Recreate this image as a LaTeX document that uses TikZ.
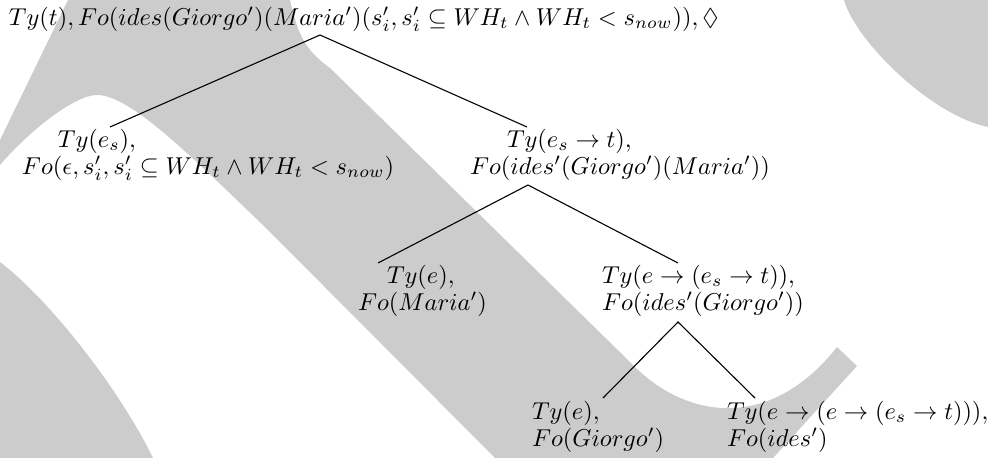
\documentclass[tikz,border=0pt]{standalone}
\usepackage{amssymb}
\definecolor{wm}{HTML}{CCCCCC}
\newlength{\pxu}
\setlength{\pxu}{0.41pt}
\newcommand{\twolines}[3]{\vtop{\baselineskip=27\pxu\hbox{\hspace*{#1\pxu}#2}\hbox{#3}}}
\begin{document}
\begin{tikzpicture}[x=\pxu,y=-\pxu,
  every node/.style={inner sep=0pt,outer sep=0pt},
  lbl/.style={anchor=base west},
  branch/.style={line width=0.45pt,black}]
\useasboundingbox (0,0) rectangle (988,458);
% watermark shapes
\fill[wm] (68,0) -- (290,0) .. controls (298,35) and (305,50) .. (330,68)
  -- (630,362) .. controls (685,420) and (770,432) .. (837,347)
  -- (857,366) -- (773,458) -- (495,458) -- (267,229)
  .. controls (190,155) and (130,95) .. (97,95)
  .. controls (75,95) and (30,130) .. (0,165) -- (0,140) -- cycle;
\fill[wm] (0,262) .. controls (50,300) and (120,390) .. (153,458) -- (0,458) -- cycle;
\fill[wm] (844,0) .. controls (855,40) and (930,115) .. (988,127) -- (988,0) -- cycle;
% tree nodes
\node[lbl] (root) at (9,25) {$Ty(t), Fo(ides(Giorgo')(Maria')(s'_i, s'_i \subseteq WH_t \wedge WH_t < s_{now})), \Diamond$};
\node[lbl] (n1) at (22,147) {\twolines{36}{$Ty(e_s),$}{$Fo(\epsilon, s'_i, s'_i \subseteq WH_t \wedge WH_t < s_{now})$}};
\node[lbl] (n2) at (470,147) {\twolines{37}{$Ty(e_s \rightarrow t),$}{$Fo(ides'(Giorgo')(Maria'))$}};
\node[lbl] (n3) at (358,283) {\twolines{29}{$Ty(e),$}{$Fo(Maria')$}};
\node[lbl] (n4) at (602,283) {\twolines{0}{$Ty(e \rightarrow (e_s \rightarrow t)),$}{$Fo(ides'(Giorgo'))$}};
\node[lbl] (n5) at (532,419) {\twolines{0}{$Ty(e),$}{$Fo(Giorgo')$}};
\node[lbl] (n6) at (727,419) {\twolines{0}{$Ty(e \rightarrow (e \rightarrow (e_s \rightarrow t))),$}{$Fo(ides')$}};
% branch points
\coordinate (root-b) at (320,35);
\coordinate (n1-t) at (110,127);
\coordinate (n2-t) at (527,127);
\coordinate (n2-b) at (528,185);
\coordinate (n3-t) at (378,263);
\coordinate (n4-t) at (678,263);
\coordinate (n4-b) at (678,322);
\coordinate (n5-t) at (603,398);
\coordinate (n6-t) at (755,398);
\draw[branch] (n1-t) -- (root-b) -- (n2-t);
\draw[branch] (n3-t) -- (n2-b) -- (n4-t);
\draw[branch] (n5-t) -- (n4-b) -- (n6-t);
\end{tikzpicture}
\end{document}
